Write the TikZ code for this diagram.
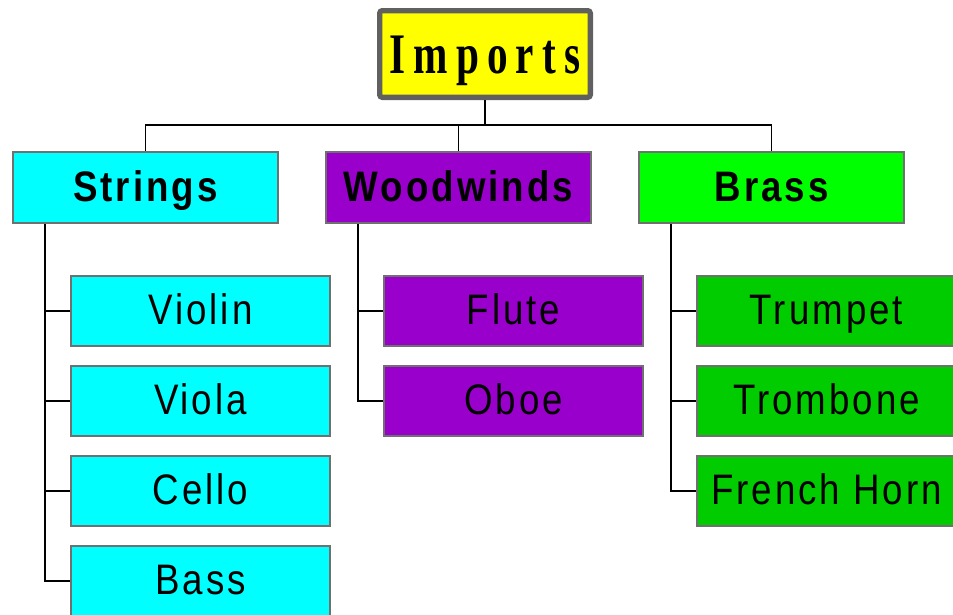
\documentclass[tikz,border=0pt]{standalone}
\usepackage{fontspec}
\setmainfont{Liberation Sans}
\newfontfamily\rootfont[FakeStretch=0.72,LetterSpace=14]{Liberation Serif}
\newfontfamily\boxfont[FakeStretch=0.86,LetterSpace=7]{Liberation Sans}
\definecolor{rootyellow}{RGB}{255,255,0}
\definecolor{rootgray}{RGB}{96,96,96}
\definecolor{boxgray}{RGB}{112,112,112}
\definecolor{stringcyan}{RGB}{0,255,255}
\definecolor{windpurple}{RGB}{153,0,204}
\definecolor{brassgreen}{RGB}{0,255,0}
\definecolor{brassdark}{RGB}{0,204,0}
\tikzset{
  rootbox/.style={draw=rootgray, line width=4pt, fill=rootyellow, rounded corners=2pt,
    minimum width=158pt, minimum height=65pt, inner sep=0pt,
    text height=28.5pt, text depth=0pt,
    font=\rootfont\bfseries\fontsize{43}{43}\selectfont},
  groupbox/.style={draw=boxgray, line width=1.5pt, minimum width=198.75pt,
    minimum height=53.25pt, inner sep=0pt, text height=21pt, text depth=0pt,
    font=\boxfont\bfseries\fontsize{32}{32}\selectfont},
  itembox/.style={draw=boxgray, line width=1.5pt, minimum width=194pt,
    minimum height=52.5pt, inner sep=0pt, text height=19.5pt, text depth=0pt,
    font=\boxfont\fontsize{32}{32}\selectfont},
  link/.style={line width=1.2pt, black}
}

\begin{document}
\begin{tikzpicture}[x=0.75pt,y=-0.75pt]
\useasboundingbox (0,0) rectangle (953,614);
% top
\node[rootbox] (imports) at (485,54) {Imports};
% groups
\node[groupbox, fill=stringcyan] (strings) at (145.5,187.5) {Strings};
\node[groupbox, fill=windpurple] (woodwinds) at (458.5,187.5) {Woodwinds};
\node[groupbox, fill=brassgreen] (brass) at (771.5,187.5) {Brass};
% strings
\node[itembox, fill=stringcyan] (violin) at (200.5,311) {Violin};
\node[itembox, fill=stringcyan] (viola) at (200.5,401) {Viola};
\node[itembox, fill=stringcyan] (cello) at (200.5,491) {Cello};
\node[itembox, fill=stringcyan] (bass) at (200.5,581) {Bass};
% woodwinds
\node[itembox, fill=windpurple] (flute) at (513.5,311) {Flute};
\node[itembox, fill=windpurple] (oboe) at (513.5,401) {Oboe};
% brass
\node[itembox, fill=brassdark] (trumpet) at (826.5,311) {Trumpet};
\node[itembox, fill=brassdark] (trombone) at (826.5,401) {Trombone};
\node[itembox, fill=brassdark] (horn) at (826.5,491) {French Horn};
% links
\draw[link] (imports.south) -- ++(0,25) -| (strings.north);
\draw[link] (imports.south) -- ++(0,25) -| (woodwinds.north);
\draw[link] (imports.south) -- ++(0,25) -| (brass.north);
\draw[link] ([xshift=24.75pt]strings.south west) |- (violin.west);
\draw[link] ([xshift=24.75pt]strings.south west) |- (viola.west);
\draw[link] ([xshift=24.75pt]strings.south west) |- (cello.west);
\draw[link] ([xshift=24.75pt]strings.south west) |- (bass.west);
\draw[link] ([xshift=24.75pt]woodwinds.south west) |- (flute.west);
\draw[link] ([xshift=24.75pt]woodwinds.south west) |- (oboe.west);
\draw[link] ([xshift=24.75pt]brass.south west) |- (trumpet.west);
\draw[link] ([xshift=24.75pt]brass.south west) |- (trombone.west);
\draw[link] ([xshift=24.75pt]brass.south west) |- (horn.west);
\end{tikzpicture}
\end{document}
